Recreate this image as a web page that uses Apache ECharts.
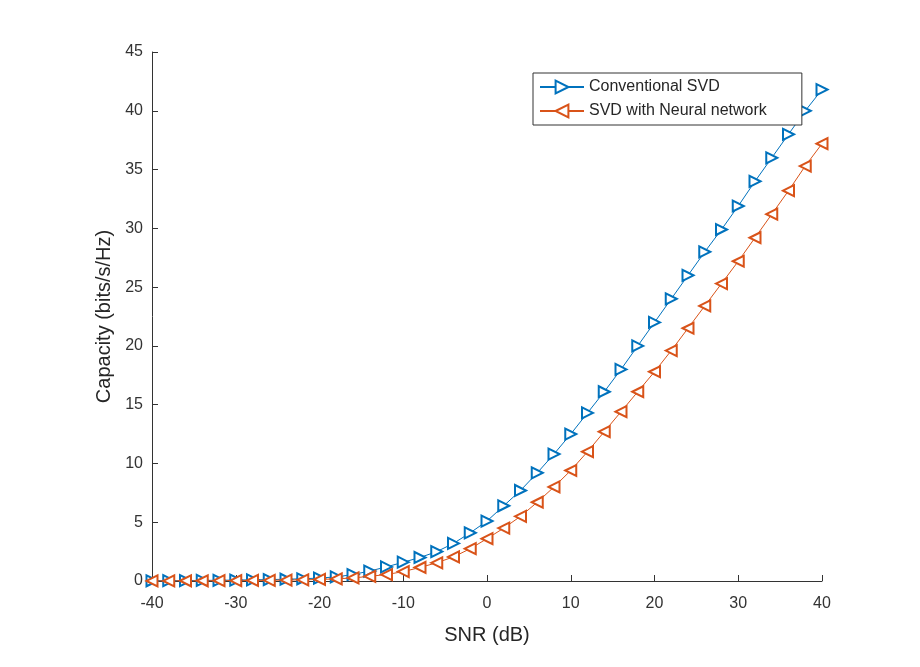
<!DOCTYPE html>
<html>
<head>
<meta charset="utf-8">
<script src="https://cdn.jsdelivr.net/npm/echarts@6/dist/echarts.min.js"></script>
<style>html,body{margin:0;padding:0;background:#fff;}#c{width:920px;height:667px;}</style>
</head>
<body>
<div id="c"></div>
<script>
var snr = [-40,-38,-36,-34,-32,-30,-28,-26,-24,-22,-20,-18,-16,-14,-12,-10,-8,-6,-4,-2,0,2,4,6,8,10,12,14,16,18,20,22,24,26,28,30,32,34,36,38,40];
var conventional = [0.02,0.03,0.04,0.05,0.06,0.08,0.1,0.12,0.15,0.19,0.25,0.35,0.55,0.85,1.2,1.6,2.0,2.5,3.2,4.1,5.1,6.4,7.7,9.2,10.8,12.5,14.3,16.1,18.0,20.0,22.0,24.0,26.0,28.0,29.9,31.9,34.0,36.0,38.0,40.0,41.8];
var neural = [0.01,0.01,0.02,0.02,0.03,0.04,0.05,0.06,0.08,0.1,0.13,0.18,0.26,0.4,0.55,0.8,1.15,1.55,2.05,2.75,3.6,4.5,5.5,6.7,8.0,9.4,11.0,12.7,14.4,16.1,17.8,19.6,21.5,23.4,25.3,27.2,29.2,31.2,33.2,35.3,37.2];
var seriesNames = ['Conventional SVD','SVD with Neural network'];

function pairs(xs, ys){ return xs.map(function(x,i){ return [x, ys[i]]; }); }

var chart = echarts.init(document.getElementById('c'));
var font = 'Liberation Sans, Arial, sans-serif';
chart.setOption({
  backgroundColor: '#fff',
  animation: false,
  grid: {left: 152, right: 98, top: 52, bottom: 86},
  legend: {
    orient: 'vertical', left: 533, top: 73,
    backgroundColor: '#fff', borderColor: '#333', borderWidth: 1,
    padding: [6, 35, 6, 6], itemGap: 8, itemWidth: 44, itemHeight: 16,
    textStyle: {fontFamily: font, fontSize: 16, color: '#262626'},
    data: seriesNames
  },
  xAxis: {
    type: 'value', min: -40, max: 40, interval: 10,
    name: 'SNR (dB)', nameLocation: 'middle', nameGap: 44,
    nameTextStyle: {fontFamily: font, fontSize: 20, color: '#262626'},
    axisLine: {show: true, onZero: false, lineStyle: {color: '#333', width: 1}},
    axisTick: {show: true, inside: true, length: 6, lineStyle: {color: '#333'}},
    axisLabel: {fontFamily: font, fontSize: 16, color: '#333', margin: 15},
    splitLine: {show: false}
  },
  yAxis: {
    type: 'value', min: 0, max: 45, interval: 5,
    name: 'Capacity (bits/s/Hz)', nameLocation: 'middle', nameGap: 38,
    nameTextStyle: {fontFamily: font, fontSize: 20, color: '#262626'},
    axisLine: {show: true, onZero: false, lineStyle: {color: '#333', width: 1}},
    axisTick: {show: true, inside: true, length: 6, lineStyle: {color: '#333'}},
    axisLabel: {fontFamily: font, fontSize: 16, color: '#333', margin: 9},
    splitLine: {show: false}
  },
  series: [
    {
      name: seriesNames[0], type: 'line', data: pairs(snr, conventional),
      symbol: 'emptyTriangle', symbolSize: 11, symbolRotate: -90,
      itemStyle: {color: '#0072BD', borderWidth: 1.2},
      lineStyle: {color: '#0072BD', width: 1}
    },
    {
      name: seriesNames[1], type: 'line', data: pairs(snr, neural),
      symbol: 'emptyTriangle', symbolSize: 11, symbolRotate: 90,
      itemStyle: {color: '#D95319', borderWidth: 1.2},
      lineStyle: {color: '#D95319', width: 1}
    }
  ]
});
</script>
</body>
</html>
